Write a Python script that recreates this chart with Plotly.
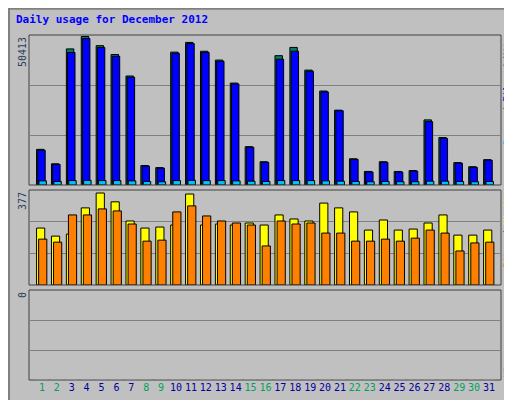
import plotly.graph_objects as go

days = list(range(1, 32))
weekend = [1, 2, 8, 9, 15, 16, 22, 23, 29, 30]

files = [11800, 7000, 45000, 49700, 46700, 43700, 36600, 6400, 5700, 44700,
         48000, 45000, 42000, 34300, 12800, 7700, 42700, 45400, 38600, 31600,
         25200, 8700, 4400, 7700, 4400, 4700, 21500, 15800, 7400, 6000, 8400]
hits = [12100, 7200, 46200, 50413, 47300, 44300, 37000, 6600, 5900, 45100,
        48400, 45400, 42400, 34600, 13000, 7900, 43900, 46700, 39000, 31900,
        25400, 8900, 4600, 7900, 4600, 4900, 22100, 16100, 7600, 6200, 8600]
pages = [1400, 1200, 1500, 1600, 1500, 1500, 1400, 1200, 1100, 1500,
         1600, 1500, 1500, 1400, 1300, 1200, 1500, 1500, 1500, 1400,
         1300, 1200, 1100, 1200, 1100, 1100, 1300, 1300, 1200, 1100, 1200]
sites = [226, 194, 202, 306, 365, 330, 254, 226, 230, 238, 361, 238, 242,
         238, 246, 238, 278, 262, 254, 325, 306, 290, 218, 258, 218, 222,
         246, 278, 198, 198, 218]
visits = [182, 170, 278, 278, 302, 294, 242, 174, 178, 290, 314, 274, 254,
          246, 238, 155, 254, 242, 246, 206, 206, 174, 174, 182, 174, 186,
          218, 206, 135, 167, 170]
kbytes = [0] * 31

MAXH, MAXV = 50413, 377
FONT = "DejaVu Sans Mono"

fig = go.Figure()
fig.add_trace(go.Bar(x=days, y=hits, offset=-0.36, width=0.5, marker_color="#00805C",
                     marker_line=dict(color="black", width=1), xaxis="x", yaxis="y"))
fig.add_trace(go.Bar(x=days, y=files, offset=-0.28, width=0.5, marker_color="#0000FF",
                     marker_line=dict(color="black", width=1), xaxis="x", yaxis="y"))
fig.add_trace(go.Bar(x=days, y=pages, offset=-0.2, width=0.5, marker_color="#00C0FF",
                     marker_line=dict(color="black", width=1), xaxis="x", yaxis="y"))
fig.add_trace(go.Bar(x=days, y=sites, offset=-0.36, width=0.55, marker_color="#FFFF00",
                     marker_line=dict(color="black", width=1), xaxis="x", yaxis="y2"))
fig.add_trace(go.Bar(x=days, y=visits, offset=-0.22, width=0.55, marker_color="#FF8000",
                     marker_line=dict(color="black", width=1), xaxis="x", yaxis="y2"))
fig.add_trace(go.Bar(x=days, y=kbytes, marker_color="#FF0000", xaxis="x", yaxis="y3"))

ticktext = [f"<span style='color:{'#00A060' if d in weekend else '#0000A0'}'>{d}</span>"
            for d in days]

grid = dict(showgrid=True, gridcolor="#808080", showticklabels=False, zeroline=False,
            showline=False, fixedrange=True)
fig.update_layout(
    width=512, height=400, margin=dict(l=0, r=0, t=0, b=0),
    paper_bgcolor="#C0C0C0", plot_bgcolor="#C0C0C0",
    barmode="overlay", showlegend=False,
    font=dict(family=FONT, size=10),
    xaxis=dict(range=[0.2, 31.74], domain=[22 / 512, 492 / 512], tickvals=days,
               ticktext=ticktext, showgrid=False, ticks="", anchor="y3",
               tickfont=dict(size=10)),
    yaxis=dict(range=[0, MAXH * 1.01], domain=[1 - 177 / 400, 1 - 27 / 400],
               tickvals=[MAXH / 3, 2 * MAXH / 3], **grid),
    yaxis2=dict(range=[0, MAXV], domain=[1 - 277 / 400, 1 - 182 / 400],
                tickvals=[MAXV / 3, 2 * MAXV / 3], **grid),
    yaxis3=dict(range=[0, 1], domain=[1 - 372 / 400, 1 - 282 / 400],
                tickvals=[1 / 3, 2 / 3], **grid),
)

# panel frames
for y0, y1 in [(27, 177), (182, 277), (282, 372)]:
    fig.add_shape(type="rect", xref="paper", yref="paper", x0=21 / 512, x1=493 / 512,
                  y0=1 - y1 / 400, y1=1 - y0 / 400, line=dict(color="#404040", width=1))
fig.add_shape(type="rect", xref="paper", yref="paper", x0=0.002, x1=0.998, y0=0.002,
              y1=0.998, line=dict(color="#808080", width=2))

ann = dict(xref="paper", yref="paper", showarrow=False, font=dict(family=FONT, size=10))
fig.add_annotation(text="<b>Daily usage for December 2012</b>", x=6 / 512, y=1 - 3 / 400,
                   xanchor="left", yanchor="top", font=dict(family=FONT, size=11, color="#0000FF"),
                   xref="paper", yref="paper", showarrow=False)
for txt, y in [(str(MAXH), 27), (str(MAXV), 182), ("0", 282)]:
    fig.add_annotation(text=txt, x=14 / 512, y=1 - y / 400, textangle=-90,
                       xanchor="center", yanchor="top", **ann)
side = dict(xref="paper", yref="paper", showarrow=False, font=dict(family=FONT, size=9),
            textangle=-90, xanchor="center", x=499 / 512)
fig.add_annotation(text="<span style='color:#00C0FF'>Pages</span> / "
                        "<span style='color:#0000FF'>Files</span> / "
                        "<span style='color:#00805C'>Hits</span>",
                   y=1 - 27 / 400, yanchor="top", **side)
fig.add_annotation(text="<span style='color:#FF8000'>Sites</span> / "
                        "<span style='color:#FFFF00'>Visits</span>",
                   y=1 - 182 / 400, yanchor="top", **side)
fig.add_annotation(text="<span style='color:#FF0000'>KBytes</span>",
                   y=1 - 372 / 400, yanchor="bottom", **side)

fig.write_html("out.html")
